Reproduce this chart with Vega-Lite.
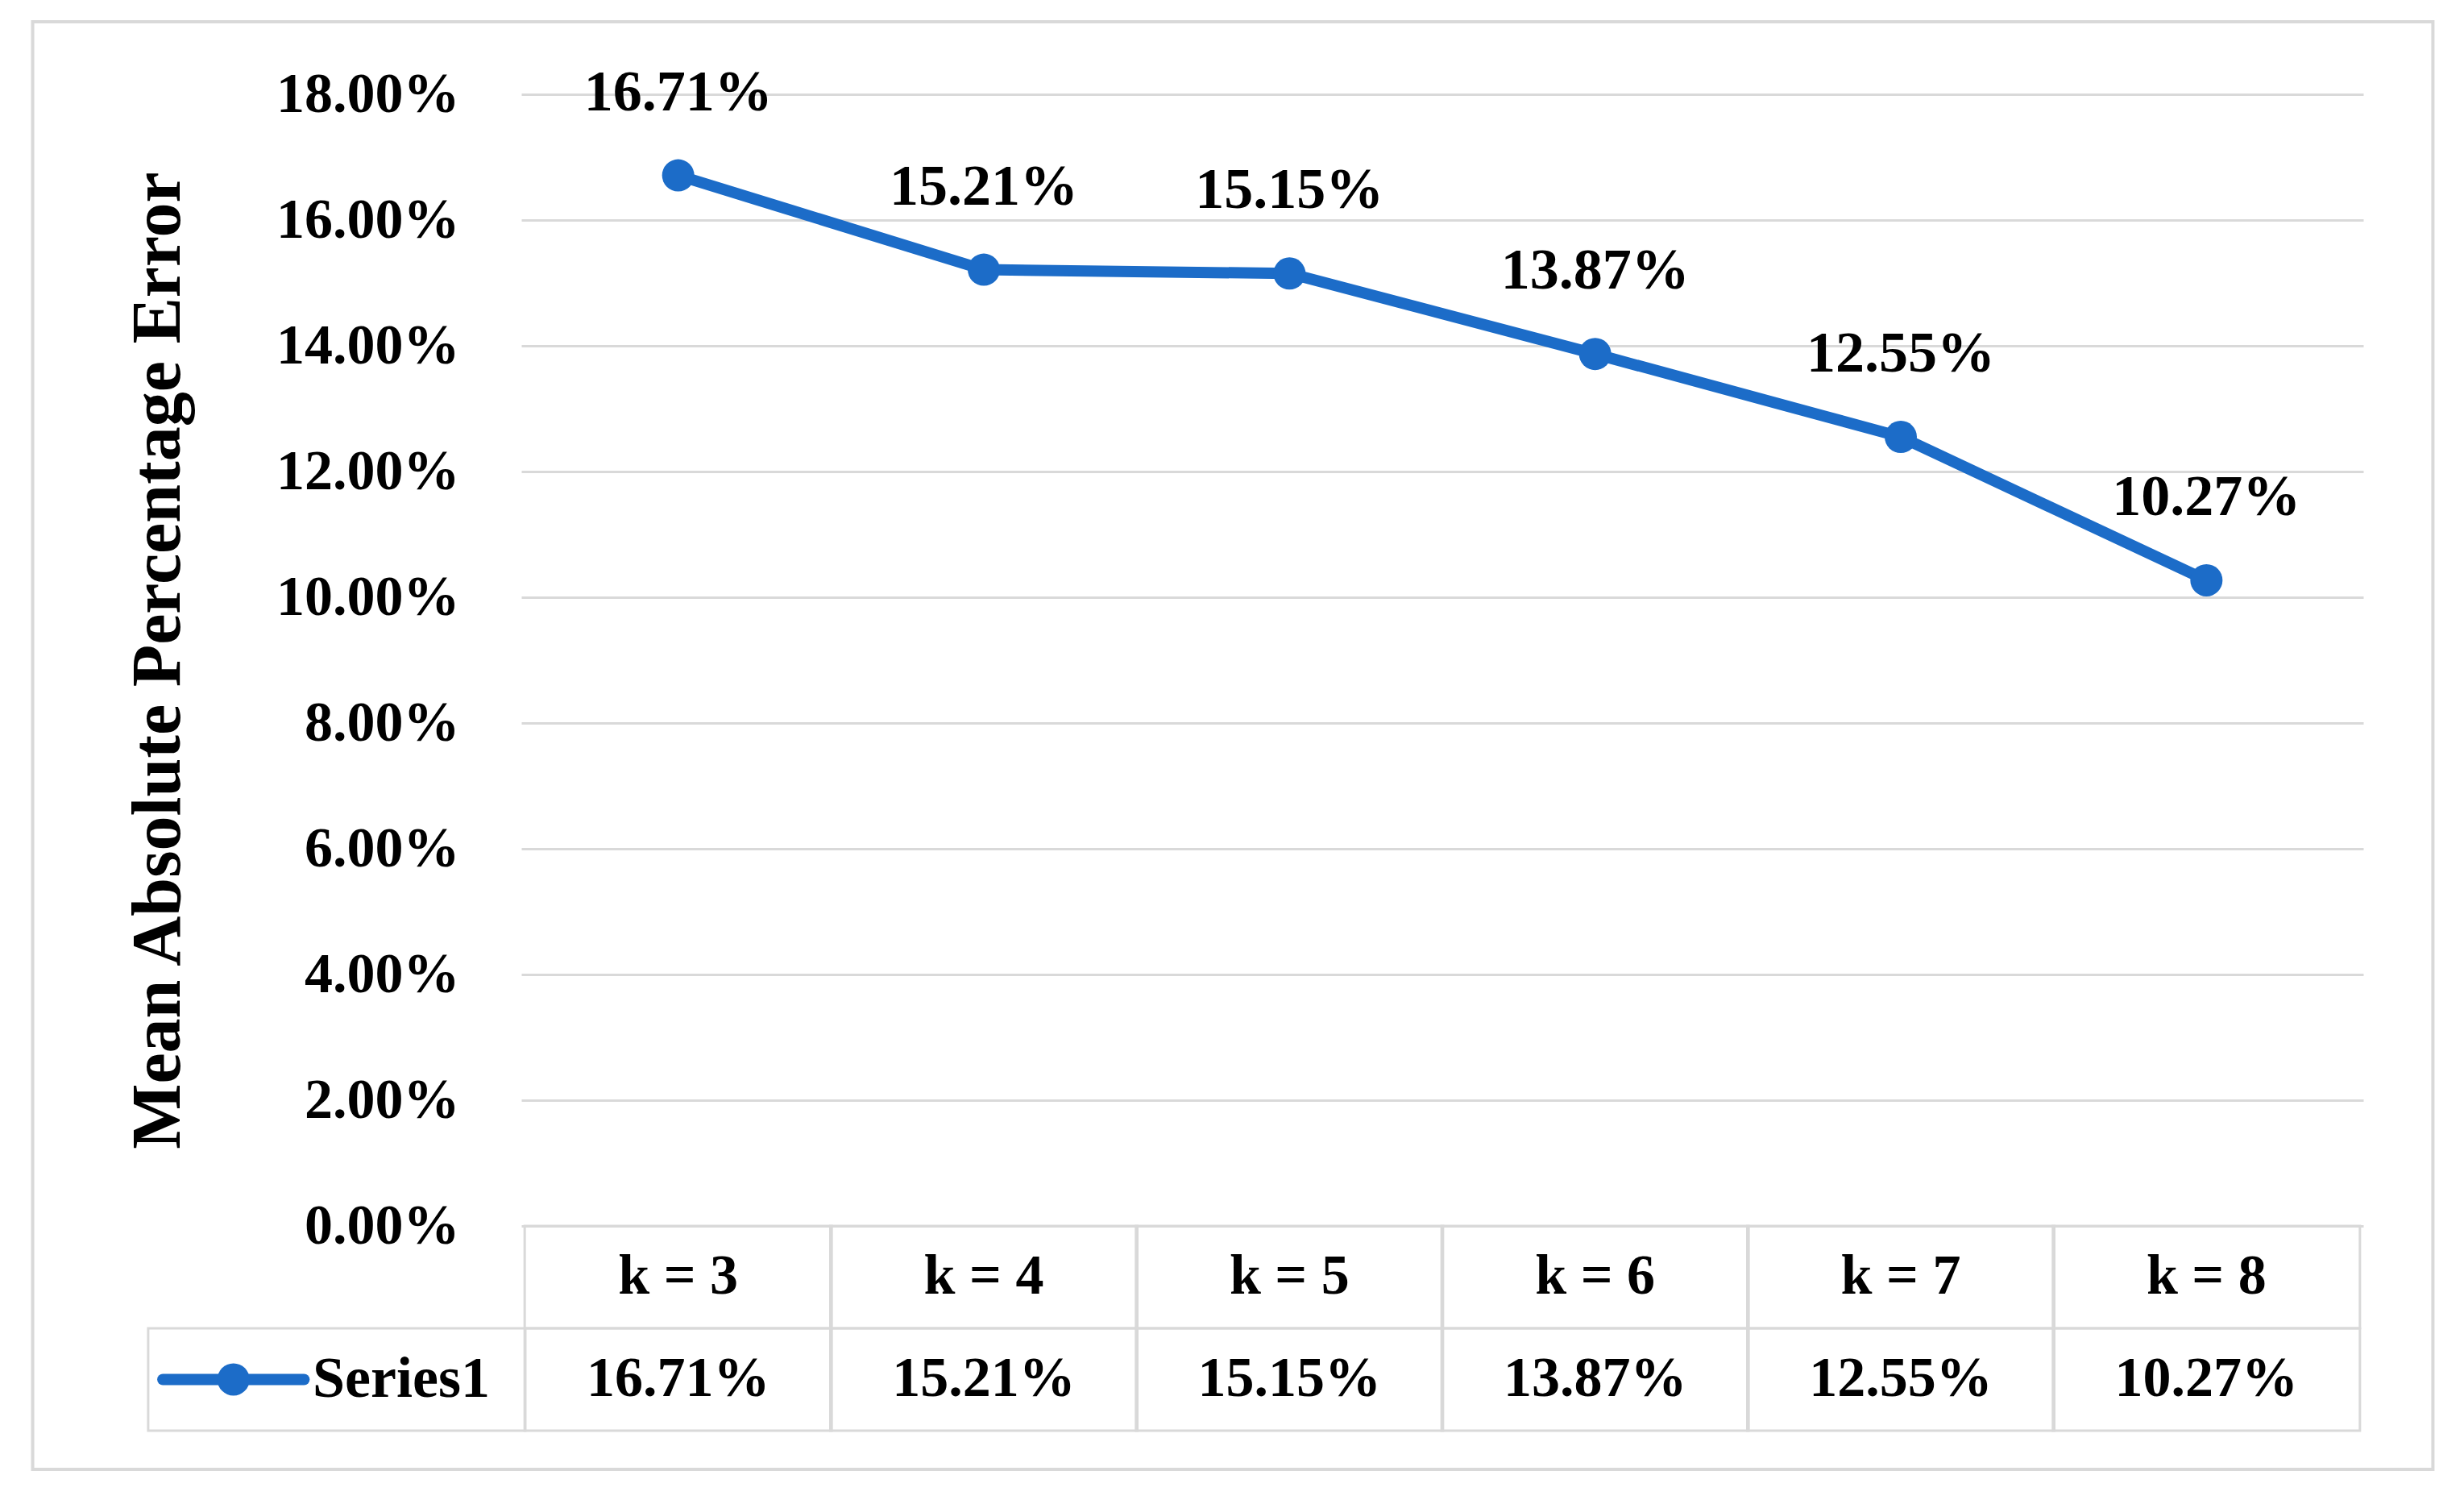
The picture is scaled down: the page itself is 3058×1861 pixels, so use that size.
{
  "$schema": "https://vega.github.io/schema/vega-lite/v6.json",
  "autosize": {"type": "none"},
  "padding": {"left": 647, "top": 117, "right": 125, "bottom": 340},
  "width": 2286,
  "height": 1404,
  "background": "white",
  "config": {"view": {"stroke": null}, "font": "Liberation Serif"},
  "data": {"values": [
    {"k": 3, "label": "k = 3", "value": 0.1671},
    {"k": 4, "label": "k = 4", "value": 0.1521},
    {"k": 5, "label": "k = 5", "value": 0.1515},
    {"k": 6, "label": "k = 6", "value": 0.1387},
    {"k": 7, "label": "k = 7", "value": 0.1255},
    {"k": 8, "label": "k = 8", "value": 0.1027}
  ]},
  "layer": [
    {
      "data": {"values": [{}]},
      "mark": {"type": "rect", "fillOpacity": 0, "stroke": "#d9d9d9", "strokeWidth": 4},
      "encoding": {
        "x": {"datum": 0.888, "type": "quantitative", "scale": {"domain": [2.5, 8.5], "nice": false, "zero": false}, "axis": null},
        "x2": {"datum": 8.741},
        "y": {"datum": 0.19154, "type": "quantitative", "scale": {"domain": [0, 0.18], "nice": false, "zero": false}},
        "y2": {"datum": -0.03872}
      }
    },
    {
      "mark": {"type": "bar", "orient": "vertical", "size": 381, "fillOpacity": 0, "stroke": "#d9d9d9", "strokeWidth": 3},
      "encoding": {
        "x": {"field": "k", "type": "quantitative", "scale": {"domain": [2.5, 8.5], "nice": false, "zero": false}, "axis": null},
        "y": {"datum": 0, "type": "quantitative", "scale": {"domain": [0, 0.18], "nice": false, "zero": false}},
        "y2": {"datum": -0.01628}
      }
    },
    {
      "mark": {"type": "bar", "orient": "vertical", "size": 381, "fillOpacity": 0, "stroke": "#d9d9d9", "strokeWidth": 3},
      "encoding": {
        "x": {"field": "k", "type": "quantitative", "scale": {"domain": [2.5, 8.5], "nice": false, "zero": false}, "axis": null},
        "y": {"datum": -0.01628, "type": "quantitative", "scale": {"domain": [0, 0.18], "nice": false, "zero": false}},
        "y2": {"datum": -0.03256}
      }
    },
    {
      "data": {"values": [{}]},
      "mark": {"type": "rect", "fillOpacity": 0, "stroke": "#d9d9d9", "strokeWidth": 3},
      "encoding": {
        "x": {"datum": 1.266, "type": "quantitative", "scale": {"domain": [2.5, 8.5], "nice": false, "zero": false}, "axis": null},
        "x2": {"datum": 2.5},
        "y": {"datum": -0.01628, "type": "quantitative", "scale": {"domain": [0, 0.18], "nice": false, "zero": false}},
        "y2": {"datum": -0.03256}
      }
    },
    {
      "mark": {"type": "line", "color": "#1c6cc8", "strokeWidth": 14},
      "encoding": {
        "x": {"field": "k", "type": "quantitative", "scale": {"domain": [2.5, 8.5], "nice": false, "zero": false}, "axis": null},
        "y": {
          "field": "value", "type": "quantitative",
          "scale": {"domain": [0, 0.18], "nice": false, "zero": false},
          "axis": {
            "values": [0, 0.02, 0.04, 0.06, 0.08, 0.1, 0.12, 0.14, 0.16, 0.18],
            "format": ".2%",
            "title": "Mean Absolute Percentage Error",
            "titleFont": "Liberation Serif",
            "titleFontSize": 86,
            "titleFontWeight": "bold",
            "titleColor": "black",
            "titlePadding": 207,
            "labelFont": "Liberation Serif",
            "labelFontSize": 70,
            "labelFontWeight": "bold",
            "labelColor": "black",
            "labelPadding": 77,
            "labelLimit": 0,
            "domain": false,
            "ticks": false,
            "grid": true,
            "gridColor": "#d9d9d9",
            "gridWidth": 3
          }
        }
      }
    },
    {
      "mark": {"type": "point", "filled": true, "opacity": 1, "color": "#1c6cc8", "size": 1600},
      "encoding": {
        "x": {"field": "k", "type": "quantitative", "scale": {"domain": [2.5, 8.5], "nice": false, "zero": false}, "axis": null},
        "y": {"field": "value", "type": "quantitative", "scale": {"domain": [0, 0.18], "nice": false, "zero": false}}
      }
    },
    {
      "mark": {"type": "text", "baseline": "middle", "align": "center", "dy": -103, "fontSize": 72, "fontWeight": "bold", "font": "Liberation Serif", "color": "black"},
      "encoding": {
        "x": {"field": "k", "type": "quantitative", "scale": {"domain": [2.5, 8.5], "nice": false, "zero": false}, "axis": null},
        "y": {"field": "value", "type": "quantitative", "scale": {"domain": [0, 0.18], "nice": false, "zero": false}},
        "text": {"field": "value", "type": "quantitative", "format": ".2%"}
      }
    },
    {
      "mark": {"type": "text", "baseline": "middle", "align": "center", "fontSize": 70, "fontWeight": "bold", "font": "Liberation Serif", "color": "black"},
      "encoding": {
        "x": {"field": "k", "type": "quantitative", "scale": {"domain": [2.5, 8.5], "nice": false, "zero": false}, "axis": null},
        "y": {"datum": -0.00814, "type": "quantitative", "scale": {"domain": [0, 0.18], "nice": false, "zero": false}},
        "text": {"field": "label"}
      }
    },
    {
      "mark": {"type": "text", "baseline": "middle", "align": "center", "fontSize": 70, "fontWeight": "bold", "font": "Liberation Serif", "color": "black"},
      "encoding": {
        "x": {"field": "k", "type": "quantitative", "scale": {"domain": [2.5, 8.5], "nice": false, "zero": false}, "axis": null},
        "y": {"datum": -0.02442, "type": "quantitative", "scale": {"domain": [0, 0.18], "nice": false, "zero": false}},
        "text": {"field": "value", "type": "quantitative", "format": ".2%"}
      }
    },
    {
      "data": {"values": [{"series": "Series1"}]},
      "mark": {"type": "rule", "color": "#1c6cc8", "strokeWidth": 14, "strokeCap": "round"},
      "encoding": {
        "x": {"datum": 1.314, "type": "quantitative", "scale": {"domain": [2.5, 8.5], "nice": false, "zero": false}, "axis": null},
        "x2": {"datum": 1.776},
        "y": {"datum": -0.02442, "type": "quantitative", "scale": {"domain": [0, 0.18], "nice": false, "zero": false}}
      }
    },
    {
      "data": {"values": [{"series": "Series1"}]},
      "mark": {"type": "point", "filled": true, "opacity": 1, "color": "#1c6cc8", "size": 1600},
      "encoding": {
        "x": {"datum": 1.545, "type": "quantitative", "scale": {"domain": [2.5, 8.5], "nice": false, "zero": false}, "axis": null},
        "y": {"datum": -0.02442, "type": "quantitative", "scale": {"domain": [0, 0.18], "nice": false, "zero": false}}
      }
    },
    {
      "data": {"values": [{"series": "Series1"}]},
      "mark": {"type": "text", "baseline": "middle", "align": "left", "fontSize": 72, "fontWeight": "bold", "font": "Liberation Serif", "color": "black"},
      "encoding": {
        "x": {"datum": 1.804, "type": "quantitative", "scale": {"domain": [2.5, 8.5], "nice": false, "zero": false}, "axis": null},
        "y": {"datum": -0.02442, "type": "quantitative", "scale": {"domain": [0, 0.18], "nice": false, "zero": false}},
        "text": {"field": "series"}
      }
    }
  ]
}
